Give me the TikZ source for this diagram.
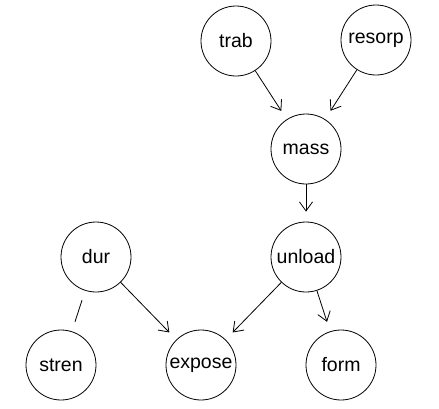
\documentclass[tikz,border=0pt]{standalone}
\usepackage{fontspec}
\setmainfont{Liberation Sans}
\usetikzlibrary{arrows.meta}

\begin{document}
\begin{tikzpicture}[x=1pt,y=-1pt,
  var/.style={draw,circle,line width=0.8pt,minimum size=70pt,inner sep=0pt,font=\fontsize{19.5}{23}\selectfont},
  edge/.style={line width=0.8pt,-{Straight Barb[length=9pt,width=13pt]},shorten >=10pt},
  link/.style={line width=0.8pt,shorten >=10pt,shorten <=10pt}]
\useasboundingbox (0,0) rectangle (439,408);

\node[var] (trab) at (236,41) {trab};
\node[var] (resorp) at (376,40) {resorp};
\node[var] (mass) at (306,149) {mass};
\node[var] (dur) at (96,257) {dur};
\node[var] (unload) at (306,257) {unload};
\node[var] (stren) at (61,365) {stren};
\node[var] (expose) at (201,365) {expose};
\node[var] (form) at (341,365) {form};

\draw[edge] (trab) -- (mass);
\draw[edge] (resorp) -- (mass);
\draw[edge] (mass) -- (unload);
\draw[edge] (unload) -- (expose);
\draw[edge] (unload) -- (form);
\draw[edge] (dur) -- (expose);
\draw[link] (dur) -- (stren);

\end{tikzpicture}
\end{document}
